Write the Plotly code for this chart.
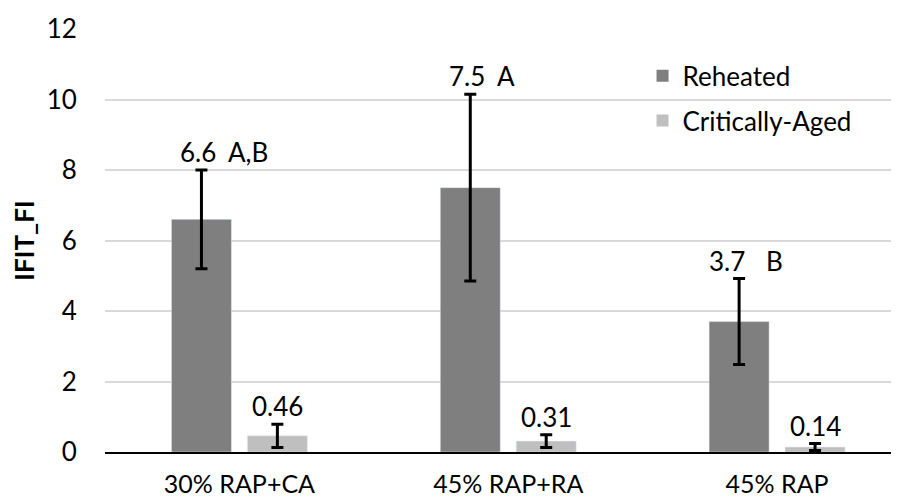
import plotly.graph_objects as go

categories = ["30% RAP+CA", "45% RAP+RA", "45% RAP"]
reheated = [6.6, 7.5, 3.7]
reheated_err = [1.4, 2.65, 1.22]
aged = [0.46, 0.31, 0.14]
aged_err = [0.33, 0.18, 0.1]
reheated_labels = ["6.6", "7.5", "3.7"]
aged_labels = ["0.46", "0.31", "0.14"]
letters = ["A,B", "A", "B"]
y_ticks = [0, 2, 4, 6, 8, 10, 12]

FONT = "Lato"
FS = 26
DARK = "#7f7f7f"
LIGHT = "#bfbfbf"

bargap = 0.435
bargroupgap = 0.21
slot = (1 - bargap) / 2
off = slot / 2

fig = go.Figure()
fig.add_trace(go.Bar(
    x=categories, y=reheated, name="Reheated", marker_color=DARK,
    error_y=dict(type="data", array=reheated_err, color="black", thickness=3, width=6),
    showlegend=False,
))
fig.add_trace(go.Bar(
    x=categories, y=aged, name="Critically-Aged", marker_color=LIGHT,
    error_y=dict(type="data", array=aged_err, color="black", thickness=3, width=6),
    showlegend=False,
))
# legend entries
for nm, col in [("Reheated", DARK), ("Critically-Aged", LIGHT)]:
    fig.add_trace(go.Scatter(
        x=[None], y=[None], mode="markers", name=nm, legendgroup=nm,
        marker=dict(symbol="square", size=16, color=col),
    ))

annotations = []
val_shift = [-3, -3, -12]
for i in range(len(categories)):
    top = reheated[i] + reheated_err[i]
    annotations.append(dict(
        x=i - off, y=top, xref="x", yref="y", text=reheated_labels[i],
        showarrow=False, xanchor="center", yanchor="bottom", xshift=val_shift[i], yshift=0,
        font=dict(family=FONT, size=FS, color="black"),
    ))
    annotations.append(dict(
        x=i - off, y=top, xref="x", yref="y", text=letters[i],
        showarrow=False, xanchor="left", yanchor="bottom", xshift=25, yshift=0,
        font=dict(family=FONT, size=FS, color="black"),
    ))
    atop = aged[i] + aged_err[i]
    annotations.append(dict(
        x=i + off, y=atop, xref="x", yref="y", text=aged_labels[i],
        showarrow=False, xanchor="center", yanchor="bottom", yshift=0,
        font=dict(family=FONT, size=FS, color="black"),
    ))

# page body has an 8px default margin; figure spans the rest of the window
fig.update_layout(
    width=891, height=491,
    margin=dict(l=97, r=0, t=21, b=47, autoexpand=False),
    paper_bgcolor="white", plot_bgcolor="white",
    barmode="group", bargap=bargap, bargroupgap=bargroupgap,
    font=dict(family=FONT, size=FS, color="black"),
    annotations=annotations,
    legend=dict(
        x=0.677, y=0.945, xanchor="left", yanchor="top",
        bgcolor="rgba(0,0,0,0)", font=dict(family=FONT, size=FS, color="black"),
        tracegroupgap=8, itemsizing="constant",
    ),
    xaxis=dict(
        type="category", range=[-0.5, 2.4535],
        showline=True, linecolor="black", linewidth=1.5,
        ticks="outside", ticklen=9, tickcolor="rgba(0,0,0,0)",
        tickfont=dict(family=FONT, size=25, color="black"),
        showgrid=False, automargin=False, fixedrange=True,
    ),
    yaxis=dict(
        range=[0, 12], tickvals=y_ticks, ticktext=[str(v) for v in y_ticks],
        showgrid=True, gridcolor="#d9d9d9", gridwidth=1.5,
        zeroline=False, showline=False,
        ticks="outside", ticklen=22, tickcolor="rgba(0,0,0,0)",
        tickfont=dict(family=FONT, size=FS, color="black"),
        title=dict(text="<b>IFIT_FI</b>", font=dict(family=FONT, size=FS, color="black"), standoff=8),
        automargin=False,
    ),
)

fig.write_html("out.html")
